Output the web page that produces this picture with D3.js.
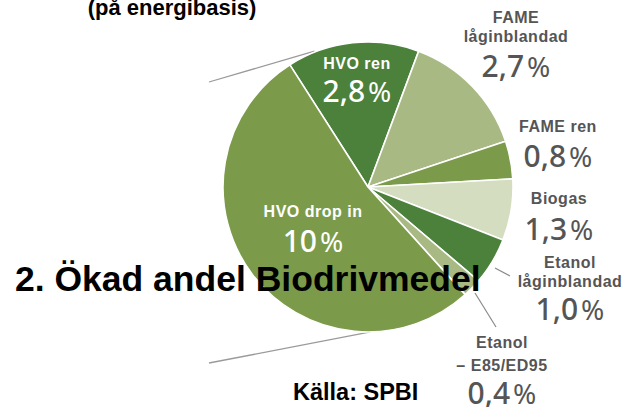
<!DOCTYPE html>
<html><head><meta charset="utf-8">
<script src="https://cdn.jsdelivr.net/npm/d3@7"></script>
<style>body{margin:0;background:#fff}svg{display:block}</style>
</head><body>
<svg id="c" width="627" height="407"></svg>
<script>
const categories = ["HVO ren","FAME låginblandad","FAME ren","Biogas","Etanol låginblandad","Etanol – E85/ED95","HVO drop in"];
const values = [2.8,2.7,0.8,1.3,1.0,0.4,10];
const valueLabels = ["2,8","2,7","0,8","1,3","1,0","0,4","10"];
const nameLines = [["HVO ren"],["FAME","låginblandad"],["FAME ren"],["Biogas"],["Etanol","låginblandad"],["Etanol","– E85/ED95"],["HVO drop in"]];
const colors = ["#4b813b","#a9b983","#7b9b4b","#d5ddc1","#4b813b","#a9b983","#7b9b4b"];

const svg = d3.select("#c");
const cx = 368, cy = 187, R = 145;
const start = -32.6 * Math.PI / 180;
const pie = d3.pie().sort(null).value(d => d).startAngle(start).endAngle(start + 2*Math.PI);
const arcs = pie(values);
const arc = d3.arc().innerRadius(0).outerRadius(R);
const g = svg.append("g").attr("transform", `translate(${cx},${cy})`);

const polar = (deg, r) => [Math.sin(deg*Math.PI/180)*r, -Math.cos(deg*Math.PI/180)*r];
const pTop = polar(-21.5, R+1);
const pBot = polar(179, R);
g.append("line").attr("x1", 209-cx).attr("y1", 82-cy).attr("x2", pTop[0]).attr("y2", pTop[1])
  .attr("stroke","#9a9a9a").attr("stroke-width",1.3);
g.append("line").attr("x1", 209-cx).attr("y1", 363-cy).attr("x2", pBot[0]).attr("y2", pBot[1])
  .attr("stroke","#9a9a9a").attr("stroke-width",1.3);

g.selectAll("path.slice").data(arcs).enter().append("path")
  .attr("d", arc).attr("fill", (d,i) => colors[i])
  .attr("stroke","#fff").attr("stroke-width",1.6).attr("stroke-linejoin","round");

const leadStarts = {4:[495,268],5:[475,293]};
const leadEnds = {4:[510,276],5:[496,327]};
[4,5].forEach(i => {
  g.append("line").attr("x1", leadStarts[i][0]-cx).attr("y1", leadStarts[i][1]-cy)
   .attr("x2", leadEnds[i][0]-cx).attr("y2", leadEnds[i][1]-cy)
   .attr("stroke","#8a8a8a").attr("stroke-width",1.2);
});

const labelPos = [
  {x:357, y:[69], v:102, fill:"#fff"},
  {x:516, y:[23,42], v:77, fill:"#555"},
  {x:558, y:[132], v:167, fill:"#555"},
  {x:559, y:[204], v:240, fill:"#555"},
  {x:570, y:[268,287], v:320, fill:"#555"},
  {x:502, y:[348,371], v:404, fill:"#555"},
  {x:313, y:[217], v:252, fill:"#fff"}
];
labelPos.forEach((p,i) => {
  nameLines[i].forEach((t,j) => {
    svg.append("text").attr("x",p.x).attr("y",p.y[j]).attr("text-anchor","middle")
      .attr("font-family","Liberation Sans, Arial, sans-serif").attr("font-weight","bold")
      .attr("font-size",16).attr("fill",p.fill).attr("letter-spacing",0.5).text(t);
  });
  const tv = svg.append("text").attr("x",p.x).attr("y",p.v).attr("text-anchor","middle")
    .attr("font-family","Noto Sans, sans-serif").attr("font-weight",500)
    .attr("font-size",30).attr("fill",p.fill);
  tv.append("tspan").text(valueLabels[i]);
  tv.append("tspan").attr("dx",3).attr("font-weight",400).attr("font-size",28).text("%");
});

svg.append("text").attr("x",172).attr("y",15).attr("text-anchor","middle")
  .attr("font-family","Liberation Sans, Arial, sans-serif").attr("font-weight","bold")
  .attr("font-size",22).attr("fill","#000").text("(på energibasis)");
svg.append("text").attr("x",15).attr("y",291)
  .attr("font-family","Liberation Sans, Arial, sans-serif").attr("font-weight","bold")
  .attr("font-size",35.5).attr("fill","#000").text("2. Ökad andel Biodrivmedel");
svg.append("text").attr("x",293).attr("y",400)
  .attr("font-family","Liberation Sans, Arial, sans-serif").attr("font-weight","bold")
  .attr("font-size",23.5).attr("fill","#000").text("Källa: SPBI");
</script>
</body></html>
